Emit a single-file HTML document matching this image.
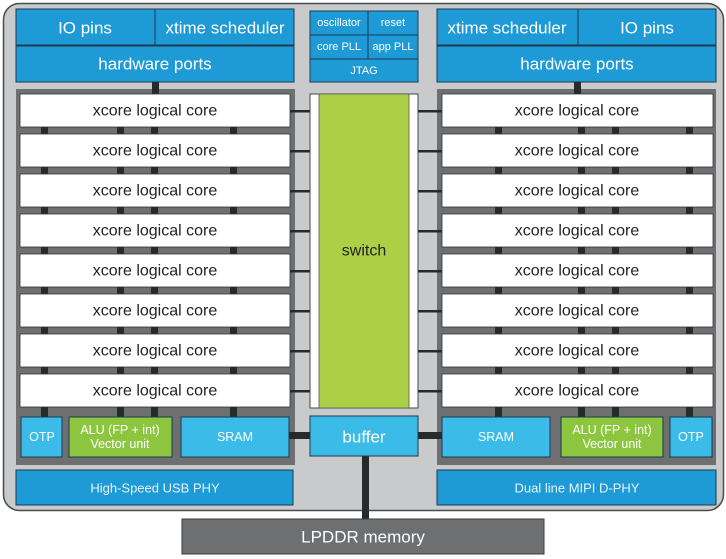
<!DOCTYPE html>
<html><head><style>body{margin:0;background:#fff}svg{display:block}text{font-family:"Liberation Sans",sans-serif;text-anchor:middle;dominant-baseline:central}</style></head><body>
<svg width="726" height="559" viewBox="0 0 726 559">
<rect x="3.5" y="3.5" width="720" height="507" rx="16" fill="#c8cacb" stroke="#4a4c4e" stroke-width="1.5"/>
<g stroke="#1d3b4f" stroke-width="1" fill="#1e9ad6">
<rect x="16" y="9" width="139" height="36"/><rect x="155" y="9" width="139" height="36"/><rect x="16" y="46" width="278" height="36"/>
<rect x="437" y="9" width="141" height="36"/><rect x="578" y="9" width="138" height="36"/><rect x="437" y="46" width="279" height="36"/>
<rect x="310" y="11" width="58" height="24"/><rect x="368" y="11" width="50" height="24"/><rect x="310" y="35" width="58" height="24"/><rect x="368" y="35" width="50" height="24"/><rect x="310" y="59" width="108" height="23"/>
<rect x="16" y="470" width="277" height="35"/><rect x="437" y="470" width="279" height="35"/>
</g>
<g fill="#fff" font-size="17"><text x="85" y="28">IO pins</text><text x="225" y="28">xtime scheduler</text><text x="155" y="64">hardware ports</text>
<text x="507" y="28">xtime scheduler</text><text x="647" y="28">IO pins</text><text x="577" y="64">hardware ports</text></g>
<g fill="#fff" font-size="11"><text x="339" y="23">oscillator</text><text x="393" y="23">reset</text><text x="339" y="47">core PLL</text><text x="393" y="47">app PLL</text><text x="364" y="71">JTAG</text></g>
<g fill="#e8f4fb" font-size="13"><text x="155" y="488">High-Speed USB PHY</text><text x="577" y="488">Dual line MIPI D-PHY</text></g>
<rect x="16" y="89" width="279" height="376" fill="#6d6f71"/><rect x="437" y="89" width="279" height="376" fill="#6d6f71"/>
<g fill="#272a2b"><rect x="152" y="82" width="7" height="12"/><rect x="574" y="82" width="7" height="12"/>
<rect x="362" y="456" width="7" height="63"/><rect x="289" y="432" width="21" height="7"/><rect x="418" y="432" width="24" height="7"/></g>
<g id="c"></g>
<rect x="310" y="94" width="108" height="314" fill="#fff" stroke="#444" stroke-width="1"/>
<rect x="319" y="94" width="90" height="314" fill="#abd046" stroke="#555" stroke-width="0.8"/>
<text x="364" y="251" font-size="16" fill="#222">switch</text>
<rect x="310" y="416" width="108" height="40" fill="#3bbbe8" stroke="#1d3b4f"/><text x="364" y="437" font-size="17" fill="#fff">buffer</text>
<rect x="182" y="519" width="362" height="35" fill="#6d6f71" stroke="#3a3c3e"/><text x="363" y="537" font-size="17" fill="#fff">LPDDR memory</text>
<g stroke="#1d3b4f" stroke-width="1">
<rect x="21" y="417" width="41" height="40" fill="#3bbbe8"/><rect x="69" y="417" width="103" height="40" fill="#8cc63f"/><rect x="181" y="417" width="108" height="40" fill="#3bbbe8"/>
<rect x="442" y="417" width="108" height="40" fill="#3bbbe8"/><rect x="561" y="417" width="102" height="40" fill="#8cc63f"/><rect x="670" y="417" width="42" height="40" fill="#3bbbe8"/></g>
<g fill="#fff" font-size="12.5"><text x="42" y="437">OTP</text><text x="120" y="430">ALU (FP + int)</text><text x="120" y="444">Vector unit</text><text x="235" y="437">SRAM</text>
<text x="496" y="437">SRAM</text><text x="612" y="430">ALU (FP + int)</text><text x="612" y="444">Vector unit</text><text x="691" y="437">OTP</text></g>
</svg>
<script>
var g=document.getElementById('c'),s='';
for(var i=0;i<8;i++){var y=94+i*40;
s+='<rect x="20" y="'+y+'" width="270" height="33" fill="#fff" stroke="#333" stroke-width="0.8"/>';
s+='<rect x="442" y="'+y+'" width="271" height="33" fill="#fff" stroke="#333" stroke-width="0.8"/>';
s+='<text x="155" y="'+(y+17)+'" font-size="16" fill="#222">xcore logical core</text>';
s+='<text x="577" y="'+(y+17)+'" font-size="16" fill="#222">xcore logical core</text>';
s+='<rect x="290" y="'+(y+16)+'" width="20" height="2.5" fill="#272a2b"/><rect x="418" y="'+(y+16)+'" width="24" height="2.5" fill="#272a2b"/>';
[41,117,151,230,495,612,578,686].forEach(function(x){s+='<rect x="'+x+'" y="'+(y+33)+'" width="7" height="'+(i==7?10:7)+'" fill="#272a2b"/>';});}
g.innerHTML=s;
</script>
</body></html>
